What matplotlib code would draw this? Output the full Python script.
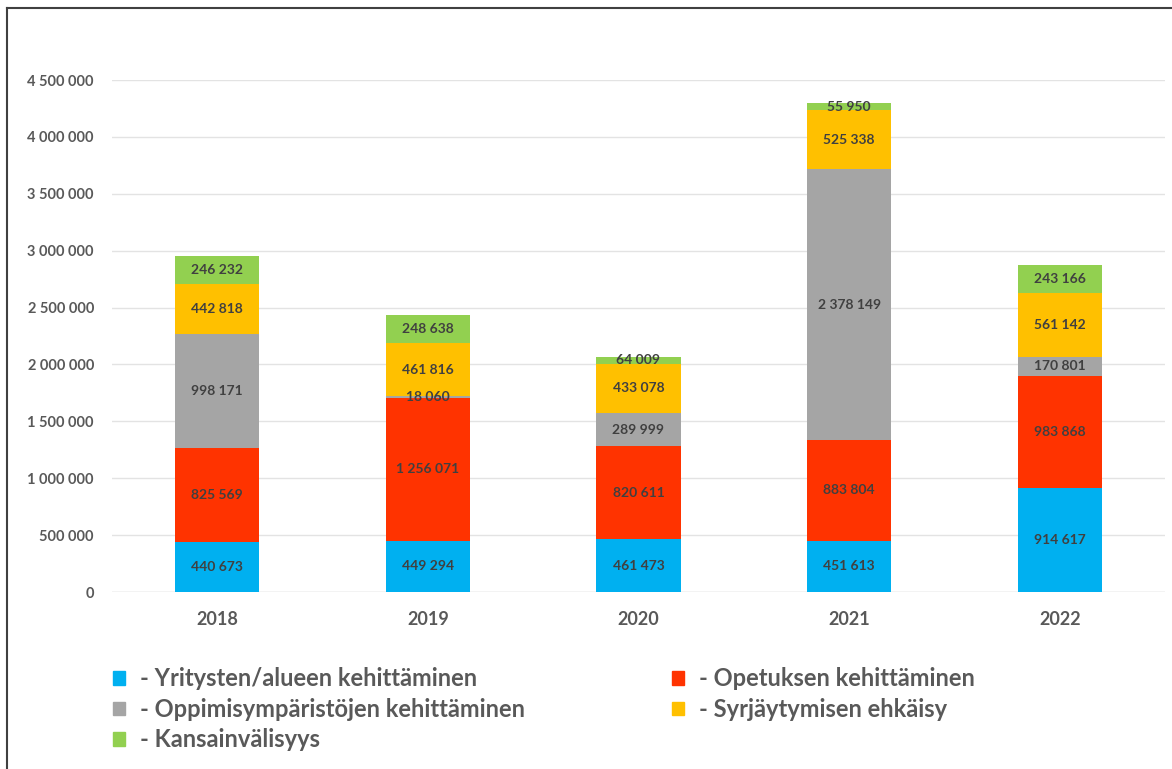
import numpy as np
import matplotlib.pyplot as plt
from matplotlib.lines import Line2D
from matplotlib.patches import Patch

plt.rcParams['font.family'] = ['Lato', 'DejaVu Sans']

# data
years = ['2018', '2019', '2020', '2021', '2022']
yritysten = [440673, 449294, 461473, 451613, 914617]
opetuksen = [825569, 1256071, 820611, 883804, 983868]
oppimis = [998171, 18060, 289999, 2378149, 170801]
syrjaytyminen = [442818, 461816, 433078, 525338, 561142]
kansainv = [246232, 248638, 64009, 55950, 243166]

series = [
    ('- Yritysten/alueen kehittäminen', yritysten, '#00B0F0'),
    ('- Opetuksen kehittäminen', opetuksen, '#FF3300'),
    ('- Oppimisympäristöjen kehittäminen', oppimis, '#A5A5A5'),
    ('- Syrjäytymisen ehkäisy', syrjaytyminen, '#FFC000'),
    ('- Kansainvälisyys', kansainv, '#92D050'),
]

def fmt(v):
    return f'{v:,.0f}'.replace(',', ' ')

fig = plt.figure(figsize=(11.72, 7.69), dpi=100)
ax = fig.add_axes([112/1172, 1 - 592/769, (1165 - 112)/1172, (592 - 80)/769])

x = np.arange(len(years))
bottom = np.zeros(len(years))
for name, vals, col in series:
    vals = np.array(vals)
    ax.bar(x, vals, 0.4, bottom=bottom, color=col, zorder=2)
    for xi, b, v in zip(x, bottom, vals):
        ax.text(xi, b + v / 2, fmt(v), ha='center', va='center',
                fontsize=10, fontweight='bold', color='#404040', zorder=3)
    bottom += vals

ax.set_xlim(-0.5, 4.5)
ax.set_ylim(0, 4500000)
ticks = np.arange(0, 4500001, 500000)
ax.set_yticks(ticks)
ax.set_yticklabels([fmt(v) for v in ticks])
ax.set_xticks(x)
ax.set_xticklabels(years)
ax.grid(axis='y', color='#E3E3E3', linewidth=1, zorder=0)
for s in ax.spines.values():
    s.set_visible(False)
ax.axhline(0, color='#D9D9D9', linewidth=1, zorder=1)
ax.tick_params(axis='both', length=0)
ax.tick_params(axis='y', pad=13, labelsize=10.5, labelcolor='#595959')
ax.tick_params(axis='x', pad=14, labelsize=13, labelcolor='#595959')
for lbl in ax.get_yticklabels() + ax.get_xticklabels():
    lbl.set_fontweight('bold')

# legend, row order: col 1 = items 0,2,4 ; col 2 = items 1,3
order = [0, 2, 4, 1, 3]
leg_handles = [Patch(color=series[i][2]) for i in order]
leg_labels = [series[i][0] for i in order]
leg = fig.legend(leg_handles, leg_labels, ncol=2, loc='upper left',
                 bbox_to_anchor=(92/1172, 1 - 646/769), frameon=False,
                 prop={'size': 17, 'weight': 'bold'},
                 handlelength=0.5, handleheight=0.5, handletextpad=0.65,
                 columnspacing=6.2, labelspacing=0.32)
for t in leg.get_texts():
    t.set_color('#595959')

# frame lines of the original image
fig.add_artist(Line2D([6.5/1172, 6.5/1172], [0, 1 - 8/769], color='#404040', linewidth=1.5))
fig.add_artist(Line2D([6.5/1172, 1], [1 - 8/769, 1 - 8/769], color='#404040', linewidth=1.5))

fig.savefig('out.png', dpi=100)
